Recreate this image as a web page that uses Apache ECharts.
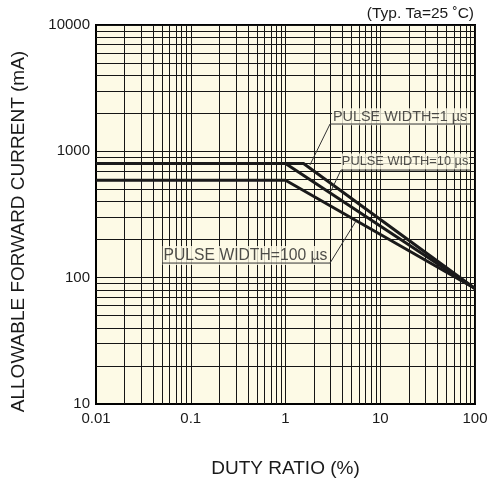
<!DOCTYPE html>
<html>
<head>
<meta charset="utf-8">
<script src="https://cdn.jsdelivr.net/npm/echarts@6/dist/echarts.min.js"></script>
<style>
html,body{margin:0;padding:0;background:#fff;}
#chart{width:488px;height:483px;}
</style>
</head>
<body>
<div id="chart"></div>
<script>
// ---- data ----
const dutyRatio1us = [0.01, 1.55, 100];
const current1us   = [800, 800, 82];
const dutyRatio10us = [0.01, 1, 100];
const current10us   = [800, 800, 82];
const dutyRatio100us = [0.01, 1, 100];
const current100us   = [590, 590, 82];

const xTickValues = [0.01, 0.1, 1, 10, 100];
const yTickValues = [10, 100, 1000, 10000];
const xTickLabels = ['0.01', '0.1', '1', '10', '100'];
const yTickLabels = ['10', '100', '1000', '10000'];

const labelTexts = ['PULSE WIDTH=1 \u00b5s', 'PULSE WIDTH=10 \u00b5s', 'PULSE WIDTH=100 \u00b5s'];
// annotation anchor points (data coordinates)
const labelPos = [[16.2, 1880], [18.3, 830], [0.378, 150]];
// leader polylines (data coordinates): pointer end -> underline start -> underline end
const leader1us  = [[1.81, 779], [2.95, 1645], [88.5, 1645]];
const leader10us = [[3.02, 485], [3.85, 711], [88.5, 711]];
const leader100us = [[5.55, 281], [2.95, 130.5], [0.0497, 130.5]];

const titleText = '(Typ. Ta=25 \u02daC)';
const xName = 'DUTY RATIO (%)';
const yName = 'ALLOWABLE FORWARD CURRENT (mA)';

// minor log grid positions (axis structure, 2..9 within each decade)
const xMinor = [], yMinor = [];
for (let d = 0; d < xTickValues.length - 1; d++) for (let m = 2; m <= 9; m++) xMinor.push(+(xTickValues[d] * m).toPrecision(6));
for (let d = 0; d < yTickValues.length - 1; d++) for (let m = 2; m <= 9; m++) yMinor.push(+(yTickValues[d] * m).toPrecision(6));

const zip = (xs, ys) => xs.map((x, i) => [x, ys[i]]);
const FONT = '"Liberation Sans", Arial, Helvetica, sans-serif';
const BG = '#fdfae6';
const INK = '#1a1a1a';
const labelSizes = [14.4, 12.8, 15.7];

function fmt(list, labels) {
  return function (v) {
    const n = +(+v).toPrecision(6);
    const i = list.indexOf(n);
    return i >= 0 ? labels[i] : String(n);
  };
}

const chart = echarts.init(document.getElementById('chart'), null, {renderer: 'canvas'});
const gridLineStyle = {color: '#151515', width: 1, type: 'solid'};

chart.setOption({
  animation: false,
  backgroundColor: '#ffffff',
  textStyle: {fontFamily: FONT},
  title: {
    text: titleText, right: 14, top: 6, padding: 0,
    textStyle: {fontSize: 15.5, fontWeight: 'normal', color: INK, fontFamily: FONT}
  },
  grid: {
    left: 96, right: 13, top: 25, bottom: 79,
    show: true, backgroundColor: BG, borderColor: '#000', borderWidth: 2,
    containLabel: false, outerBoundsMode: 'none'
  },
  xAxis: {
    type: 'log', logBase: 10, min: 0.01, max: 100,
    name: xName, nameLocation: 'middle', nameGap: 55,
    nameTextStyle: {fontSize: 19, color: INK, fontFamily: FONT},
    axisLine: {show: true, lineStyle: {color: '#000', width: 2}},
    axisTick: {show: false},
    axisLabel: {fontSize: 15, color: INK, margin: 7, fontFamily: FONT, formatter: fmt(xTickValues, xTickLabels), showMinLabel: true, showMaxLabel: true},
    splitLine: {show: true, lineStyle: gridLineStyle},
    minorTick: {show: false}, minorSplitLine: {show: false}
  },
  yAxis: {
    type: 'log', logBase: 10, min: 10, max: 10000,
    name: yName, nameLocation: 'middle', nameGap: 68, nameRotate: 90,
    nameTextStyle: {fontSize: 19, color: INK, fontFamily: FONT, padding: [0, 34, 0, 0]},
    axisLine: {show: true, lineStyle: {color: '#000', width: 2}},
    axisTick: {show: false},
    axisLabel: {fontSize: 15, color: INK, margin: 6, fontFamily: FONT, formatter: fmt(yTickValues, yTickLabels), showMinLabel: true, showMaxLabel: true, padding: [0, 0, 3, 0]},
    splitLine: {show: true, lineStyle: gridLineStyle},
    minorTick: {show: false}, minorSplitLine: {show: false}
  },
  series: [
    {
      name: 'grid-minor', type: 'line', data: [], z: 1, silent: true,
      markLine: {
        z: 1, silent: true, symbol: ['none', 'none'], animation: false,
        label: {show: false},
        lineStyle: gridLineStyle,
        emphasis: {disabled: true},
        data: xMinor.map(v => ({xAxis: v})).concat(yMinor.map(v => ({yAxis: v})))
      }
    },
    {name: '1us', type: 'line', data: zip(dutyRatio1us, current1us), showSymbol: false, symbol: 'none', z: 3,
      lineStyle: {color: INK, width: 3}, silent: true},
    {name: '10us', type: 'line', data: zip(dutyRatio10us, current10us), showSymbol: false, symbol: 'none', z: 3,
      lineStyle: {color: INK, width: 3}, silent: true},
    {name: '100us', type: 'line', data: zip(dutyRatio100us, current100us), showSymbol: false, symbol: 'none', z: 3,
      lineStyle: {color: INK, width: 3}, silent: true},
    {
      name: 'labels', type: 'scatter', z: 6, symbolSize: 0, silent: true,
      data: labelPos.map((p, i) => ({value: p, name: labelTexts[i], label: {fontSize: labelSizes[i]}})),
      label: {
        show: true, position: 'inside', formatter: p => p.name,
        fontSize: 15, color: '#222', fontFamily: FONT,
        backgroundColor: BG, padding: [2, 1, 1, 1]
      }
    },
    {name: 'lead1', type: 'line', data: leader1us, showSymbol: false, symbol: 'none', z: 7, silent: true,
      lineStyle: {color: '#333', width: 1}},
    {name: 'lead10', type: 'line', data: leader10us, showSymbol: false, symbol: 'none', z: 7, silent: true,
      lineStyle: {color: '#333', width: 1}},
    {name: 'lead100', type: 'line', data: leader100us, showSymbol: false, symbol: 'none', z: 7, silent: true,
      lineStyle: {color: '#333', width: 1}}
  ]
});
</script>
</body>
</html>
